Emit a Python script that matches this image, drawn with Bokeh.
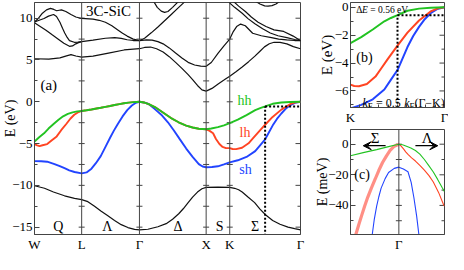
from bokeh.plotting import figure
from bokeh.layouts import row, column
from bokeh.models import Range1d, FixedTicker, Arrow, VeeHead, Label, Span
from bokeh.embed import file_html
from bokeh.resources import INLINE

FONT = "Liberation Serif"
GREEN = "#22c322"
RED = "#ff4422"
BLUE = "#2244ff"
SALMON = "#ff8f85"
FRAME = "#444444"

# ---------------- high-symmetry path (units of 2pi/a) ----------------
sym_names = ["W", "L", "Γ", "X", "K", "Γ"]
sym_k = [0.0, 0.7071, 1.5731, 2.5731, 2.9267, 3.9874]
kW, kL, kG1, kX, kK, kG2 = sym_k
k_F = (kK + kG2) / 2          # k_F = 0.5 k_F(Γ-K)
delta_E = 0.56                # eV

seg_names = ["Q", "Λ", "Δ", "S", "Σ"]

# ---------------- conduction bands (eV) ----------------
cb1_k = [0, 0.214, 0.381, 0.48, 0.547, 0.62, 0.7071, 0.877, 1.109, 1.343, 1.5731,
         1.65, 1.739, 1.83, 1.928, 2.02, 2.115, 2.21, 2.303, 2.37, 2.443, 2.51, 2.5731,
         2.66, 2.753, 2.84, 2.9267, 3.02, 3.113, 3.21, 3.304, 3.38, 3.447, 3.52, 3.591,
         3.68, 3.783, 3.88, 3.9874]
cb1_e = [5.15, 5.1, 5.25, 5.5, 5.65, 5.48, 5.35, 5.46, 5.83, 6.2, 6.35,
         6.5, 6.55, 6.35, 5.95, 5.4, 4.72, 4.0, 3.25, 2.65, 1.95, 1.42, 1.28,
         1.6, 2.14, 2.6, 3.06, 3.6, 4.16, 4.8, 5.46, 6.05, 6.57, 6.95, 7.12,
         7.1, 6.93, 6.6, 6.35]

cb2_k = [1.5731, 1.68, 1.763, 1.85, 1.928, 2.02, 2.115, 2.21, 2.303, 2.4, 2.492, 2.5731,
         2.65, 2.75, 2.84, 2.9267, 2.98, 3.03, 3.09, 3.16, 3.27, 3.4, 3.553, 3.66, 3.78,
         3.9, 3.9874]
cb2_e = [7.31, 7.4, 7.38, 7.2, 6.93, 6.45, 5.83, 5.25, 4.72, 4.4, 4.27, 4.24,
         4.7, 5.8, 6.7, 7.5, 8.4, 9.0, 9.3, 9.1, 8.2, 7.9, 7.67, 7.5, 7.4,
         7.33, 7.31]

cb3_k = [1.5731, 1.65, 1.75, 1.85, 1.95, 2.05, 2.15, 2.25, 2.3]
cb3_e = [7.31, 7.6, 8.25, 8.95, 9.7, 10.45, 11.2, 11.95, 12.3]

cb4_k = [1.78, 1.84, 1.9, 1.95, 2.0, 2.07, 2.17]
cb4_e = [12.1, 11.3, 10.85, 10.7, 10.8, 11.3, 12.1]

cb5_k = [3.30, 3.38, 3.45, 3.5, 3.56, 3.62, 3.69]
cb5_e = [12.1, 11.7, 11.47, 11.44, 11.5, 11.7, 12.1]

cb6_k = [2.915, 3.0, 3.113, 3.2, 3.304, 3.42, 3.534, 3.65, 3.783, 3.9, 3.9874]
cb6_e = [11.9, 11.3, 10.6, 9.95, 9.34, 8.75, 8.23, 7.9, 7.67, 7.45, 7.31]

cb7_k = [2.97, 3.06, 3.161, 3.25, 3.352, 3.47, 3.591, 3.735, 3.878, 3.9874]
cb7_e = [12.1, 11.45, 10.8, 10.15, 9.52, 9.0, 8.6, 8.42, 7.86, 7.31]

t1_k = [0, 0.06, 0.119, 0.18, 0.239, 0.29, 0.333, 0.37, 0.404, 0.47, 0.547, 0.62, 0.7071,
        0.877, 0.97, 1.063, 1.16, 1.249, 1.32, 1.389, 1.48, 1.5731]
t1_e = [9.55, 10.0, 10.6, 11.0, 11.18, 11.05, 10.89, 10.95, 11.0, 10.8, 10.44, 10.15, 9.97,
        9.89, 9.75, 9.52, 9.1, 8.6, 8.2, 7.86, 7.5, 7.31]

t2_k = [0, 0.07, 0.143, 0.21, 0.286, 0.33, 0.381, 0.42, 0.453, 0.49, 0.524, 0.596, 0.65,
        0.7071, 0.877, 1.063, 1.203, 1.3, 1.389, 1.48, 1.5731]
t2_e = [9.55, 9.75, 9.97, 10.25, 10.44, 10.2, 9.52, 8.8, 8.23, 7.7, 7.31, 7.12, 7.15,
        7.2, 7.38, 7.6, 7.67, 7.58, 7.42, 7.33, 7.31]

t3_k = [0, 0.08, 0.167, 0.26, 0.357, 0.44, 0.524, 0.57, 0.619, 0.66, 0.7071]
t3_e = [9.45, 9.05, 8.6, 8.05, 7.49, 7.0, 6.64, 6.68, 6.93, 7.08, 7.2]

# ---------------- valence bands (eV) ----------------
vb_k = [0, 0.15, 0.284, 0.45, 0.6, 0.7071, 0.8, 0.9, 1.0, 1.1, 1.2, 1.3, 1.4, 1.5, 1.5731,
        1.7, 1.85, 1.974, 2.07, 2.162, 2.23, 2.303, 2.37, 2.443, 2.51, 2.5731, 2.75, 2.9267,
        3.0, 3.06, 3.113, 3.2, 3.3, 3.38, 3.467, 3.57, 3.68, 3.8, 3.9, 3.9874]
vb_e = [-10.05, -10.35, -10.8, -11.25, -11.55, -11.7, -11.95, -12.5, -13.1, -13.65, -14.2,
        -14.7, -15.05, -15.27, -15.32, -15.25, -14.95, -14.58, -14.05, -13.4, -12.8, -12.07,
        -11.4, -10.8, -10.4, -10.25, -10.2, -10.25, -10.35, -10.52, -10.8, -11.4, -12.07,
        -12.85, -13.55, -14.2, -14.66, -15.0, -15.18, -15.32]

sh_k = [0, 0.1, 0.19, 0.3, 0.379, 0.45, 0.521, 0.6, 0.7071, 0.78, 0.854, 0.92, 0.993, 1.06,
        1.133, 1.19, 1.249, 1.32, 1.39, 1.459, 1.52, 1.5731, 1.65, 1.711, 1.8, 1.9, 2.0,
        2.087, 2.18, 2.274, 2.37, 2.463, 2.52, 2.5731, 2.66, 2.749, 2.84, 2.9267, 3.0476,
        3.1781, 3.3086, 3.3722, 3.4571, 3.5048, 3.5695, 3.6342, 3.7, 3.7646, 3.8304,
        3.9026, 3.9874]
sh_e = [-7.1, -7.12, -7.17, -7.45, -7.7, -7.95, -8.2, -8.4, -8.57, -8.45, -8.0, -7.35, -6.5,
        -5.45, -4.3, -3.45, -2.65, -1.75, -1.0, -0.45, -0.12, 0.0, -0.1, -0.26, -0.85, -1.55,
        -2.45, -3.4, -4.5, -5.6, -6.6, -7.46, -7.75, -7.83, -7.8, -7.72, -7.5, -7.25, -7.0,
        -6.6, -5.9, -5.3, -4.5, -3.8, -2.85, -2.05, -1.4, -0.85, -0.42, -0.12, 0.0]

# hh and lh are degenerate along L-Γ and Γ-X
deg_lg_k = [0.78, 0.854, 0.93, 0.993, 1.063, 1.133, 1.2, 1.273, 1.34, 1.412, 1.48, 1.5731]
deg_lg_e = [-1.02, -0.92, -0.81, -0.72, -0.61, -0.5, -0.39, -0.28, -0.18, -0.1, -0.04, 0.0]
deg_gx_k = [1.64, 1.72, 1.805, 1.92, 2.041, 2.16, 2.274, 2.37, 2.463, 2.5731]
deg_gx_e = [-0.08, -0.3, -0.63, -1.25, -1.92, -2.45, -2.85, -3.08, -3.22, -3.29]

hh_wl_k = [0, 0.07, 0.143, 0.21, 0.286, 0.36, 0.429, 0.5, 0.571, 0.64, 0.7071]
hh_wl_e = [-4.75, -4.25, -3.77, -3.2, -2.66, -2.15, -1.74, -1.45, -1.26, -1.15, -1.1]
hh_xg_k = [2.65, 2.749, 2.84, 2.9267, 3.0476, 3.1781, 3.3086, 3.3828, 3.4571, 3.5695,
           3.7, 3.8304, 3.9874]
hh_xg_e = [-3.2, -3.03, -2.82, -2.56, -2.14, -1.59, -1.0, -0.76, -0.56, -0.24,
           -0.09, -0.03, 0.0]

lh_wl_k = [0, 0.04, 0.075, 0.12, 0.19, 0.26, 0.333, 0.4, 0.476, 0.54, 0.596, 0.65, 0.7071]
lh_wl_e = [-5.08, -5.22, -5.3, -5.2, -5.06, -4.6, -4.14, -3.4, -2.66, -2.0, -1.55, -1.28, -1.1]
lh_xg_k = [2.62, 2.677, 2.72, 2.772, 2.82, 2.869, 2.9267, 2.9691, 3.0222, 3.1113, 3.2088,
           3.2767, 3.3404, 3.3934, 3.4571, 3.5695, 3.7, 3.8304, 3.9131, 3.9874]
lh_xg_e = [-3.45, -3.77, -4.45, -5.06, -5.4, -5.55, -5.55, -5.65, -5.66, -5.5, -4.97,
           -4.35, -3.77, -3.3, -2.75, -1.81, -0.94, -0.29, -0.07, 0.0]

hh_k = hh_wl_k + deg_lg_k + deg_gx_k + hh_xg_k
hh_e = hh_wl_e + deg_lg_e + deg_gx_e + hh_xg_e
lh_k = lh_wl_k + deg_lg_k + deg_gx_k + lh_xg_k
lh_e = lh_wl_e + deg_lg_e + deg_gx_e + lh_xg_e

# ---------------- panel (c): near Γ, meV (left: Σ, right: Λ) ----------------
c_hh_k = [-1.06, -0.78, -0.486, -0.225, -0.1, 0, 0.08, 0.167, 0.263, 0.363, 0.46, 0.559,
          0.66, 0.755, 0.85, 0.951, 1.0]
c_hh_e = [-7.5, -5.5, -3.55, -1.6, -0.7, 0, -0.4, -1.3, -2.5, -4.1, -6.5, -10,
          -14.2, -18.2, -23, -28.5, -31]
c_lh_left_k = [-0.945, -0.88, -0.814, -0.75, -0.682, -0.6, -0.52, -0.44, -0.357, -0.27,
               -0.192, -0.1, 0]
c_lh_left_e = [-59.3, -52.8, -46.5, -40.5, -34.7, -28.5, -22.9, -17.2, -12, -7.6,
               -4.1, -1.3, 0]
c_lh_right_k = [0, 0.05, 0.102, 0.15, 0.2, 0.28, 0.363, 0.46, 0.559, 0.66, 0.755, 0.87,
                0.98, 1.0]
c_lh_right_e = [0, -1.2, -3.1, -5.0, -6.7, -8.9, -11, -13.8, -16.9, -20.5, -24.7, -31.5,
                -39.6, -40.5]
c_sh_k = [-0.584, -0.54, -0.486, -0.44, -0.388, -0.3, -0.225, -0.1, 0, 0.1, 0.2, 0.27,
          0.33, 0.39, 0.44]
c_sh_e = [-59.3, -49.5, -40.5, -34.5, -28.7, -22.5, -18.5, -15.8, -15, -16.2, -18,
          -25, -35, -47, -59.3]

# ---------------- ticks ----------------
e_ticks_a = [-15, -10, -5, 0, 5, 10]
e_minor_a = [-15, -12.5, -10, -7.5, -5, -2.5, 0, 2.5, 5, 7.5, 10]
e_ticks_b = [-6, -4, -2, 0]
e_minor_b = [-7, -6, -5, -4, -3, -2, -1, 0]
e_ticks_c = [-40, -20, 0]
e_minor_c = [-50, -40, -30, -20, -10, 0]


def lab(v):
    return str(v).replace("-", "−")


def style_axis(ax, size="13px"):
    ax.major_label_text_font = FONT
    ax.major_label_text_font_size = size
    ax.major_label_text_color = "black"
    ax.axis_label_text_font = FONT
    ax.axis_label_text_font_size = "14px"
    ax.axis_label_text_font_style = "normal"
    ax.axis_label_text_color = "black"
    ax.axis_line_color = FRAME
    ax.major_tick_line_color = FRAME
    ax.minor_tick_line_color = FRAME
    ax.major_tick_out = 0
    ax.minor_tick_out = 0
    ax.major_tick_in = 5
    ax.minor_tick_in = 3
    ax.major_label_standoff = 2


def base_fig(w, h, xr, yr, bl, br, bt, bb):
    f = figure(width=w, height=h, output_backend="svg", toolbar_location=None,
               x_range=Range1d(*xr), y_range=Range1d(*yr),
               min_border_left=bl, min_border_right=br, min_border_top=bt,
               min_border_bottom=bb)
    f.xgrid.visible = False
    f.ygrid.visible = False
    f.outline_line_color = FRAME
    f.background_fill_color = "white"
    f.border_fill_color = "white"
    return f


def right_ticks(f, x_edge, ticks, minor):
    # inward tick marks on the right frame edge (half of each dash is clipped away)
    f.scatter([x_edge] * len(ticks), ticks, marker="dash", size=10, line_color=FRAME)
    rest = [t for t in minor if t not in ticks]
    f.scatter([x_edge] * len(rest), rest, marker="dash", size=6, line_color=FRAME)


def label(f, x, y, text, size, color="black", align="center", baseline="middle",
          style="normal", dx=0):
    f.add_layout(Label(x=x, y=y, text=text, text_font=FONT, text_font_size=size,
                       text_color=color, text_align=align, text_baseline=baseline,
                       text_font_style=style, x_offset=dx))


# ================= panel (a) =================
pa = base_fig(312, 254, (kW, kG2), (-15.88, 11.88), 28, 12, 2, 17)
style_axis(pa.xaxis[0])
pa.xaxis.ticker = FixedTicker(ticks=sym_k)
pa.xaxis.major_label_overrides = {k: n for k, n in zip(sym_k, sym_names)}
pa.xaxis.major_tick_in = 0
style_axis(pa.yaxis[0])
pa.yaxis.ticker = FixedTicker(ticks=e_ticks_a, minor_ticks=e_minor_a)
pa.yaxis.major_label_overrides = {t: lab(t) for t in e_ticks_a}
pa.yaxis.axis_label = "E (eV)"
pa.yaxis.axis_label_standoff = -9
right_ticks(pa, kG2, e_ticks_a, e_minor_a)

for k in sym_k[1:-1]:
    pa.add_layout(Span(location=k, dimension="height", line_color=FRAME, line_width=1))
pa.scatter([k for k in sym_k[1:-1] for t in e_minor_a],
           [t for k in sym_k[1:-1] for t in e_minor_a],
           marker="dash", size=6, line_color=FRAME, line_width=1)

for kk, ee in [(cb1_k, cb1_e), (cb2_k, cb2_e), (cb3_k, cb3_e), (cb4_k, cb4_e),
               (cb5_k, cb5_e), (cb6_k, cb6_e), (cb7_k, cb7_e), (t1_k, t1_e),
               (t2_k, t2_e), (t3_k, t3_e), (vb_k, vb_e)]:
    pa.line(kk, ee, line_color="#111111", line_width=1.2)
pa.line(sh_k, sh_e, line_color=BLUE, line_width=1.9)
pa.line(lh_k, lh_e, line_color=RED, line_width=1.9)
pa.line(hh_k, hh_e, line_color=GREEN, line_width=1.9)

pa.segment(x0=[k_F, k_F], y0=[-16.5, -delta_E], x1=[k_F, kG2], y1=[-delta_E, -delta_E],
           line_color="black", line_width=2, line_dash="2 2")

label(pa, 1.109, 10.9, "3C-SiC", "15px")
label(pa, 0.214, 2.03, "(a)", "15px")
label(pa, 3.149, 0.2, "hh", "14px", GREEN)
label(pa, 3.156, -3.73, "lh", "14px", RED)
label(pa, 3.163, -8.1, "sh", "14px", BLUE)
for name, kx in zip(seg_names, [0.357, 1.091, 2.15, 2.775, 3.307]):
    label(pa, kx, -14.95, name, "14px")

# ================= panel (b) =================
pb = base_fig(136, 127, (kK, kG2), (-7.19, 0.35), 30, 4, 2, 17)
style_axis(pb.xaxis[0])
pb.xaxis.ticker = FixedTicker(ticks=[kK, kG2],
                              minor_ticks=[kK + i * (kG2 - kK) / 10 for i in range(11)])
pb.xaxis.major_label_overrides = {kK: "K", kG2: "Γ"}
style_axis(pb.yaxis[0])
pb.yaxis.ticker = FixedTicker(ticks=e_ticks_b, minor_ticks=e_minor_b)
pb.yaxis.major_label_overrides = {t: lab(t) for t in e_ticks_b}
pb.yaxis.axis_label = "E (eV)"
pb.yaxis.axis_label_text_font_size = "15px"
pb.yaxis.axis_label_standoff = -3
right_ticks(pb, kG2, e_ticks_b, e_minor_b)

pb.line(sh_k, sh_e, line_color=BLUE, line_width=2)
pb.line(lh_k, lh_e, line_color=RED, line_width=2)
pb.line(hh_k, hh_e, line_color=GREEN, line_width=2)
pb.segment(x0=[k_F, k_F], y0=[-7.5, -delta_E], x1=[k_F, kG2], y1=[-delta_E, -delta_E],
           line_color="black", line_width=2, line_dash="2 2")

label(pb, 3.085, -3.58, "(b)", "14px")
# ΔE = 0.56 eV
xb0 = 2.9923
label(pb, xb0, -0.22, "Δ", "9.5px", align="left", baseline="alphabetic")
label(pb, xb0, -0.22, "E", "9.5px", align="left", baseline="alphabetic", style="italic", dx=5.8)
label(pb, xb0, -0.22, "= %.2f eV" % delta_E, "9.5px", align="left", baseline="alphabetic", dx=14)
# k_F = 0.5 k_F(Γ−K)
xb1 = 3.0608
label(pb, xb1, -6.84, "k", "12px", align="left", baseline="alphabetic", style="italic")
label(pb, xb1, -7.05, "F", "8.5px", align="left", baseline="alphabetic", dx=5.3)
label(pb, xb1, -6.84, "= 0.5", "12px", align="left", baseline="alphabetic", dx=13.5)
label(pb, xb1, -6.84, "k", "12px", align="left", baseline="alphabetic", style="italic", dx=41.8)
label(pb, xb1, -7.05, "F", "8.5px", align="left", baseline="alphabetic", dx=47.1)
label(pb, xb1, -6.84, "(Γ−K)", "12px", align="left", baseline="alphabetic", dx=52.0)

# ================= panel (c) =================
pc = base_fig(136, 127, (-1.059, 1.0), (-59.0, 9.6), 33, 4, 2, 16)
style_axis(pc.xaxis[0])
pc.xaxis.ticker = FixedTicker(ticks=[0])
pc.xaxis.major_label_overrides = {0: "Γ"}
pc.xaxis.major_tick_in = 0
style_axis(pc.yaxis[0])
pc.yaxis.ticker = FixedTicker(ticks=e_ticks_c, minor_ticks=e_minor_c)
pc.yaxis.major_label_overrides = {t: lab(t) for t in e_ticks_c}
pc.yaxis.axis_label = "E (meV)"
pc.yaxis.axis_label_standoff = -5
right_ticks(pc, 1.0, e_ticks_c, e_minor_c)

pc.add_layout(Span(location=0, dimension="height", line_color=FRAME, line_width=1))
pc.scatter([0] * len(e_minor_c), e_minor_c, marker="dash", size=6, line_color=FRAME)

pc.line(c_lh_left_k, c_lh_left_e, line_color=SALMON, line_width=3.2)
pc.line(c_lh_right_k, c_lh_right_e, line_color=RED, line_width=1.1)
pc.line(c_sh_k, c_sh_e, line_color=BLUE, line_width=1.1)
pc.line(c_hh_k, c_hh_e, line_color=GREEN, line_width=1.1)

pc.add_layout(Arrow(end=VeeHead(size=8, fill_color="black", line_color="black"),
                    x_start=-0.29, y_start=-1.0, x_end=-0.78, y_end=-1.0,
                    line_color="black", line_width=1.2))
pc.add_layout(Arrow(end=VeeHead(size=8, fill_color="black", line_color="black"),
                    x_start=0.363, y_start=-1.0, x_end=0.853, y_end=-1.0,
                    line_color="black", line_width=1.2))
label(pc, -0.52, 4.2, "Σ", "15px")
label(pc, 0.62, 4.2, "Λ", "15px")
label(pc, -0.804, -19.9, "(c)", "14px")

layout = row(pa, column(pb, pc))
open("out.html", "w").write(file_html(layout, INLINE, title="3C-SiC bands"))
